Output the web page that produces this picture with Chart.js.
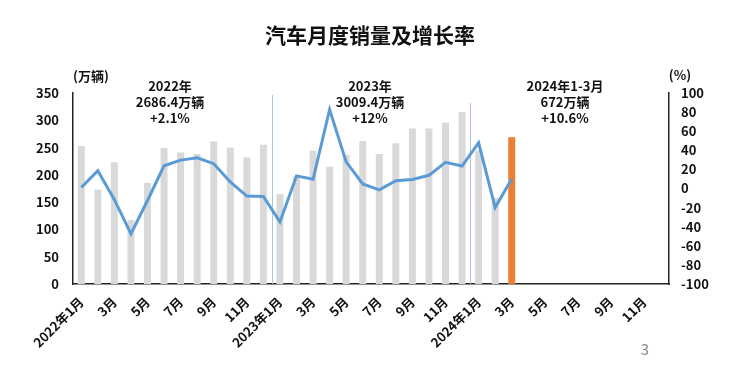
<!DOCTYPE html>
<html>
<head>
<meta charset="utf-8">
<script src="https://cdn.jsdelivr.net/npm/chart.js@4"></script>
<style>
  html, body { margin: 0; padding: 0; background: #fff; }
  canvas { display: block; }
</style>
</head>
<body>
<canvas id="chart" width="747" height="382"></canvas>
<script>
const FONT = '"Noto Sans CJK SC", "Noto Sans", sans-serif';

// 2022-01 .. 2024-12
const months = [
  '2022年1月', '2月', '3月', '4月', '5月', '6月', '7月', '8月', '9月', '10月', '11月', '12月',
  '2023年1月', '2月', '3月', '4月', '5月', '6月', '7月', '8月', '9月', '10月', '11月', '12月',
  '2024年1月', '2月', '3月', '4月', '5月', '6月', '7月', '8月', '9月', '10月', '11月', '12月'
];

// monthly sales, 万辆
const sales = [
  253, 173, 223, 117, 185, 249, 241, 238, 261, 250, 232, 255,
  165, 197, 244, 215, 237, 262, 238, 258, 285, 285, 296, 315,
  244, 158, 269, null, null, null, null, null, null, null, null, null
];

// year-on-year growth, %
const growth = [
  1, 18.7, -11.7, -47.6, -12.6, 23.8, 29.7, 32.1, 26, 6.9, -7.9, -8.4,
  -35, 13.2, 9.7, 82.7, 27.9, 4.8, -1.4, 8.2, 9.5, 13.8, 27.4, 23.5,
  47.9, -19.9, 9.9, null, null, null, null, null, null, null, null, null
];

const leftTicks = [0, 50, 100, 150, 200, 250, 300, 350];
const rightTicks = [-100, -80, -60, -40, -20, 0, 20, 40, 60, 80, 100];

const yearNotes = [
  { x: 170, lines: ['2022年', '2686.4万辆', '+2.1%'] },
  { x: 370, lines: ['2023年', '3009.4万辆', '+12%'] },
  { x: 565, lines: ['2024年1-3月', '672万辆', '+10.6%'] }
];

const barColors = sales.map((v, i) => i === 26 ? '#ed7d31' : '#d9d9d9');

const decor = {
  id: 'decor',
  beforeDatasetsDraw(chart) {
    const ctx = chart.ctx;
    const x = chart.scales.x;
    const bottom = chart.chartArea.bottom;
    ctx.save();
    ctx.strokeStyle = '#a9c7e2';
    ctx.lineWidth = 1;
    [[11.5, 95], [23.5, 103]].forEach(([v, top]) => {
      const px = Math.round(x.getPixelForValue(v)) + 0.5;
      ctx.beginPath();
      ctx.moveTo(px, top);
      ctx.lineTo(px, bottom);
      ctx.stroke();
    });
    ctx.restore();
  },
  afterDraw(chart) {
    const ctx = chart.ctx;
    ctx.save();
    ctx.fillStyle = '#111';
    ctx.textAlign = 'center';
    ctx.textBaseline = 'middle';
    ctx.font = 'bold 21px ' + FONT;
    ctx.fillText('汽车月度销量及增长率', 370, 35);

    ctx.font = 'bold 13px ' + FONT;
    yearNotes.forEach(n => {
      n.lines.forEach((t, i) => ctx.fillText(t, n.x, 86 + i * 16));
    });

    ctx.fillText('(万辆)', 91, 76);
    ctx.fillText('(%)', 680, 75);

    ctx.fillStyle = '#888';
    ctx.font = '15px ' + FONT;
    ctx.fillText('3', 645, 349);
    ctx.restore();
  }
};

new Chart(document.getElementById('chart'), {
  data: {
    labels: months,
    datasets: [
      {
        type: 'line',
        data: growth,
        yAxisID: 'y1',
        borderColor: '#5b9bd5',
        borderWidth: 3,
        pointRadius: 0,
        tension: 0,
        order: 0
      },
      {
        type: 'bar',
        data: sales,
        yAxisID: 'y',
        backgroundColor: barColors,
        barPercentage: 0.42,
        categoryPercentage: 1,
        order: 1
      }
    ]
  },
  options: {
    responsive: false,
    animation: false,
    devicePixelRatio: 1,
    layout: { padding: { top: 93, left: 0, right: 0, bottom: 0 } },
    plugins: { legend: { display: false }, tooltip: { enabled: false } },
    scales: {
      x: {
        grid: { display: false, drawTicks: false },
        border: { color: '#222', width: 1.5 },
        ticks: {
          autoSkip: false,
          maxRotation: 45,
          minRotation: 45,
          padding: 10,
          color: '#111',
          font: { family: FONT, size: 13, weight: 'bold' },
          callback: (v, i) => (i % 2 === 0 ? months[i] : '')
        },
        afterFit: s => { s.height = 98; }
      },
      y: {
        position: 'left',
        min: 0,
        max: 350,
        grid: { display: false, drawTicks: false },
        border: { color: '#222', width: 1.5 },
        afterBuildTicks: s => { s.ticks = leftTicks.map(v => ({ value: v })); },
        ticks: {
          padding: 14,
          color: '#111',
          font: { family: FONT, size: 13, weight: 'bold' }
        },
        afterFit: s => { s.width = 73; }
      },
      y1: {
        position: 'right',
        min: -100,
        max: 100,
        grid: { display: false, drawTicks: false },
        border: { color: '#222', width: 1.5 },
        afterBuildTicks: s => { s.ticks = rightTicks.map(v => ({ value: v })); },
        ticks: {
          padding: 12,
          color: '#111',
          font: { family: FONT, size: 13, weight: 'bold' }
        },
        afterFit: s => { s.width = 78; }
      }
    }
  },
  plugins: [decor]
});
</script>
</body>
</html>
